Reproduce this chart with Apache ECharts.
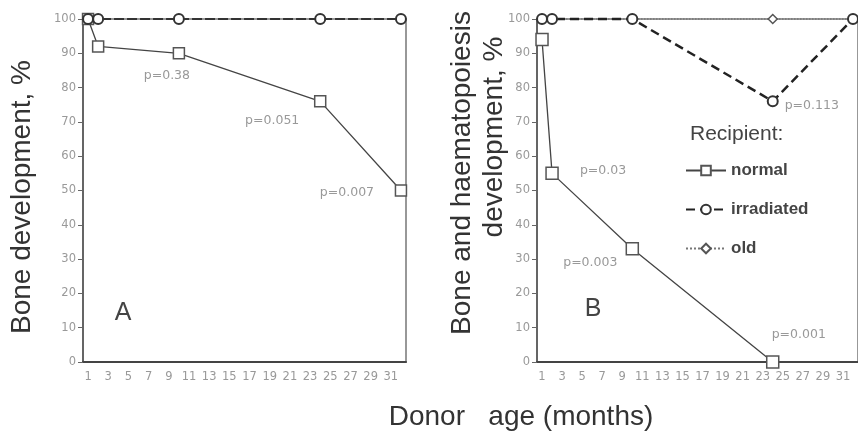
<!DOCTYPE html>
<html>
<head>
<meta charset="utf-8">
<script src="https://cdn.jsdelivr.net/npm/echarts@6/dist/echarts.min.js"></script>
<style>
  html, body { margin: 0; padding: 0; background: #fff; }
  #chart { width: 858px; height: 434px; }
</style>
</head>
<body>
<div id="chart"></div>
<script>
// donor age categories (months)
var months = ['1','2','3','4','5','6','7','8','9','10','11','12','13','14','15','16',
  '17','18','19','20','21','22','23','24','25','26','27','28','29','30','31','32'];

// panel A - bone development
var aNormalX = ['1', '2', '10', '24', '32'];
var aNormalY = [100, 92, 90, 76, 50];
var aNormalP = [null, null, 'p=0.38', 'p=0.051', 'p=0.007'];
var aIrrX = ['1', '2', '10', '24', '32'];
var aIrrY = [100, 100, 100, 100, 100];

// panel B - bone and haematopoiesis development
var bNormalX = ['1', '2', '10', '24'];
var bNormalY = [94, 55, 33, 0];
var bNormalP = [null, 'p=0.03', 'p=0.003', 'p=0.001'];
var bIrrX = ['1', '2', '10', '24', '32'];
var bIrrY = [100, 100, 100, 76, 100];
var bIrrP = [null, null, null, 'p=0.113', null];
var bOldX = ['1', '10', '24', '32'];
var bOldY = [100, 100, 100, 100];

// where each p label sits relative to its point
var pOffset = {
  'p=0.38': [-12, 22], 'p=0.051': [-48, 19], 'p=0.007': [-54, 2],
  'p=0.03': [51, -3], 'p=0.003': [-42, 14], 'p=0.001': [26, -27], 'p=0.113': [39, 4]
};

function pts(xs, ys, ps) {
  return xs.map(function (x, i) {
    var item = { value: [x, ys[i]] };
    if (ps && ps[i]) {
      item.label = {
        show: true, formatter: ps[i], position: 'inside', offset: pOffset[ps[i]],
        color: '#999', fontSize: 12.5, fontFamily: 'DejaVu Sans'
      };
    }
    return item;
  });
}

var tickFont = { color: '#999', fontSize: 11.5, fontFamily: 'DejaVu Sans' };
var marker = { color: '#fff', borderColor: '#555', borderWidth: 1.5 };
var ringMarker = { color: '#fff', borderColor: '#333', borderWidth: 2 };

function xAxisFor(grid) {
  return {
    type: 'category', gridIndex: grid, data: months, boundaryGap: true,
    axisLine: { lineStyle: { color: '#444', width: 2 } },
    axisTick: { interval: 1, length: 4, lineStyle: { color: '#555' } },
    axisLabel: Object.assign({ interval: 1, margin: 9 }, tickFont),
    splitLine: { show: false }
  };
}
function yAxisFor(grid) {
  return {
    type: 'value', gridIndex: grid, min: 0, max: 100, interval: 10,
    axisLine: { show: true, lineStyle: { color: '#555', width: 1.5 } },
    axisTick: { show: true, length: 5, lineStyle: { color: '#666' } },
    axisLabel: Object.assign({ margin: 7 }, tickFont),
    splitLine: { show: false }
  };
}

function lineSeries(name, grid, data, symbol, size, lineStyle, itemStyle, z) {
  return {
    name: name, type: 'line', xAxisIndex: grid, yAxisIndex: grid, clip: false,
    showAllSymbol: true, data: data, symbol: symbol, symbolSize: size,
    lineStyle: lineStyle, itemStyle: itemStyle, z: z
  };
}

var chart = echarts.init(document.getElementById('chart'));
chart.setOption({
  backgroundColor: '#fff',
  animation: false,
  grid: [
    { left: 83, top: 19, width: 323, height: 343, show: true, borderColor: '#777', borderWidth: 1.5 },
    { left: 537, top: 19, width: 323, height: 343, show: true, borderColor: '#777', borderWidth: 1.5 }
  ],
  xAxis: [xAxisFor(0), xAxisFor(1)],
  yAxis: [yAxisFor(0), yAxisFor(1)],
  legend: {
    data: ['normal', 'irradiated', 'old'],
    orient: 'vertical', left: 680, top: 157,
    itemWidth: 40, itemHeight: 12, itemGap: 22,
    textStyle: { color: '#444', fontSize: 17, fontWeight: 'bold', fontFamily: 'Liberation Sans' }
  },
  graphic: [
    { type: 'text', x: 22, y: 197, rotation: Math.PI / 2,
      style: { text: 'Bone development, %', font: '28px "Liberation Sans"', fill: '#333',
        textAlign: 'center', textVerticalAlign: 'middle' } },
    { type: 'text', x: 462, y: 173, rotation: Math.PI / 2,
      style: { text: 'Bone and haematopoiesis', font: '28px "Liberation Sans"', fill: '#333',
        textAlign: 'center', textVerticalAlign: 'middle' } },
    { type: 'text', x: 494, y: 137, rotation: Math.PI / 2,
      style: { text: 'development, %', font: '28px "Liberation Sans"', fill: '#333',
        textAlign: 'center', textVerticalAlign: 'middle' } },
    { type: 'text', x: 521, y: 417,
      style: { text: 'Donor   age (months)', font: '28px "Liberation Sans"', fill: '#333',
        textAlign: 'center', textVerticalAlign: 'middle' } },
    { type: 'text', x: 123, y: 313,
      style: { text: 'A', font: '25px "Liberation Sans"', fill: '#444',
        textAlign: 'center', textVerticalAlign: 'middle' } },
    { type: 'text', x: 593, y: 309,
      style: { text: 'B', font: '25px "Liberation Sans"', fill: '#444',
        textAlign: 'center', textVerticalAlign: 'middle' } },
    { type: 'text', x: 690, y: 134,
      style: { text: 'Recipient:', font: '21px "Liberation Sans"', fill: '#444',
        textAlign: 'left', textVerticalAlign: 'middle' } }
  ],
  series: [
    lineSeries('normal A', 0, pts(aNormalX, aNormalY, aNormalP), 'rect', 11,
      { color: '#444', width: 1.3 }, marker, 3),
    lineSeries('irradiated A', 0, pts(aIrrX, aIrrY), 'circle', 10,
      { color: '#333', width: 2, type: [10, 3] }, ringMarker, 4),
    lineSeries('normal', 1, pts(bNormalX, bNormalY, bNormalP), 'rect', 12,
      { color: '#444', width: 1.3 }, marker, 3),
    lineSeries('old', 1, pts(bOldX, bOldY), 'diamond', 9,
      { color: '#777', width: 1.5, type: 'dotted' }, marker, 3),
    lineSeries('irradiated', 1, pts(bIrrX, bIrrY, bIrrP), 'circle', 10,
      { color: '#222', width: 2.5, type: [9, 5] }, ringMarker, 4)
  ]
});
</script>
</body>
</html>
